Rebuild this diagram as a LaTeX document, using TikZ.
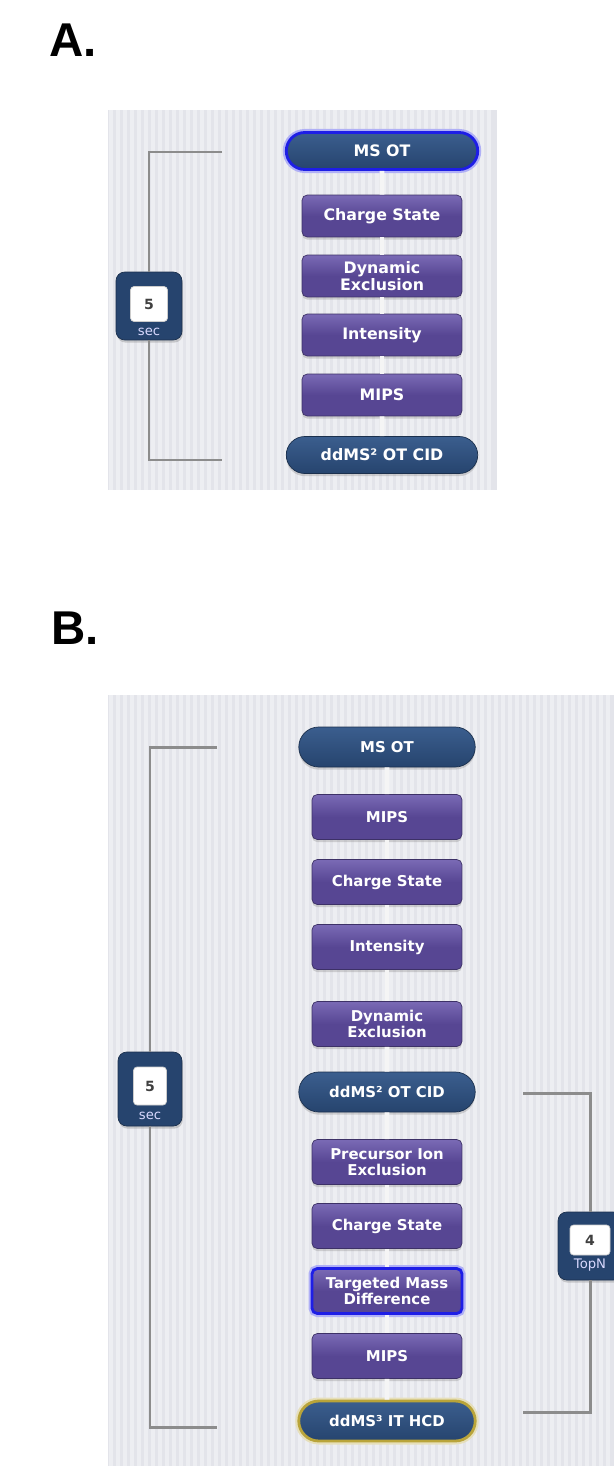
\documentclass[tikz,border=0pt]{standalone}
\usepackage{fontspec}
\setmainfont{DejaVu Sans}
\newfontfamily\panelfont{Liberation Sans}
\usetikzlibrary{positioning,shapes.misc,shadows}
\definecolor{scannavy}{HTML}{26446E}
\definecolor{scantop}{HTML}{3B5E8E}
\definecolor{filtviolet}{HTML}{574693}
\definecolor{filttop}{HTML}{7A6AB5}
\definecolor{panelbg}{HTML}{E3E4EA}
\definecolor{panelstripe}{HTML}{EDEEF2}
\definecolor{armgray}{HTML}{8C8C8C}
\definecolor{glowblue}{HTML}{1E1EE6}
\definecolor{glowgold}{HTML}{B9A43A}

\begin{document}
\begin{tikzpicture}[x=0.02cm,y=-0.02cm,
  scan/.style={rounded rectangle,draw=scannavy!70!black,line width=0.4pt,
    top color=scantop,bottom color=scannavy,text=white,
    font=\bfseries\fontsize{9}{9.8}\selectfont,
    minimum width=3.9cm,minimum height=0.74cm,inner sep=1pt,
    drop shadow={shadow xshift=0pt,shadow yshift=-1.5pt,opacity=0.3}},
  filt/.style={rectangle,rounded corners=3pt,draw=filtviolet!70!black,line width=0.4pt,
    top color=filttop,bottom color=filtviolet,middle color=filtviolet,text=white,
    align=center,font=\bfseries\fontsize{9}{9.8}\selectfont,
    minimum width=3.2cm,minimum height=0.84cm,inner sep=1pt,
    drop shadow={shadow xshift=0pt,shadow yshift=-1.5pt,opacity=0.3}},
  glow/.style={preaction={draw=#1!35,line width=4pt},draw=#1,line width=1.6pt},
  link/.style={draw=white!92!gray,line width=2.8pt},
  arm/.style={draw=armgray,line width=1.7pt},
  timer/.style={rectangle,rounded corners=5pt,fill=scannavy,draw=scannavy!70!black,
    minimum width=1.32cm,minimum height=1.36cm,
    drop shadow={shadow xshift=0.5pt,shadow yshift=-1.5pt,opacity=0.35}},
  timerval/.style={rectangle,rounded corners=2pt,fill=white,draw=gray!40,
    minimum width=0.74cm,minimum height=0.7cm,inner sep=0pt,
    font=\bfseries\fontsize{8}{8}\selectfont,text=black!75},
  timerunit/.style={font=\fontsize{7.5}{7.5}\selectfont,text=white!85!blue,inner sep=0pt},
  panellabel/.style={font=\panelfont\bfseries\fontsize{27}{27}\selectfont,inner sep=0pt}]

\useasboundingbox (0,0) rectangle (614,1470);

% panel A
\fill[panelbg] (108,110) rectangle (497,490);
\foreach \x in {111,118,...,494}
  \draw[panelstripe,line width=2pt] (\x,110) -- (\x,490);

\node[panellabel] (labA) at (73,40) {A.};

\node[scan,glow=glowblue] (msA) at (382,151) {MS OT};
\node[filt] (chargeA) at (382,216) {Charge State};
\node[filt] (dynA) at (382,276) {Dynamic\\Exclusion};
\node[filt] (intA) at (382,335) {Intensity};
\node[filt] (mipsA) at (382,395) {MIPS};
\node[scan] (ms2A) at (382,455) {ddMS² OT CID};

\foreach \a/\b in {msA/chargeA,chargeA/dynA,dynA/intA,intA/mipsA,mipsA/ms2A}
  \draw[link] (\a) -- (\b);

\node[timer] (secA) at (149,306) {};
\node[timerval] (secAval) at (149,304) {5};
\node[timerunit] (secAunit) at (149,332) {sec};

\coordinate (armAtop) at (222,152);
\coordinate (armAbot) at (222,460);
\draw[arm] (armAtop) -| (secA);
\draw[arm] (secA) |- (armAbot);

% panel B
\fill[panelbg] (108,695) rectangle (614,1466);
\foreach \x in {111,118,...,611}
  \draw[panelstripe,line width=2pt] (\x,695) -- (\x,1466);

\node[panellabel] (labB) at (75,628) {B.};

\begin{scope}[scan/.append style={minimum width=3.6cm,minimum height=0.8cm,
    font=\bfseries\fontsize{8.5}{9.4}\selectfont},
  filt/.append style={minimum width=3.0cm,minimum height=0.9cm,
    font=\bfseries\fontsize{8.5}{9.4}\selectfont}]
\node[scan] (msB) at (387,747) {MS OT};
\node[filt] (mipsB) at (387,817) {MIPS};
\node[filt] (chargeB) at (387,882) {Charge State};
\node[filt] (intB) at (387,947) {Intensity};
\node[filt] (dynB) at (387,1024) {Dynamic\\Exclusion};
\node[scan] (ms2B) at (387,1092) {ddMS² OT CID};
\node[filt] (precB) at (387,1162) {Precursor Ion\\Exclusion};
\node[filt] (charge2B) at (387,1226) {Charge State};
\node[filt,glow=glowblue] (tmdB) at (387,1291) {Targeted Mass\\Difference};
\node[filt] (mips2B) at (387,1356) {MIPS};
\node[scan,glow=glowgold] (ms3B) at (387,1421) {ddMS³ IT HCD};
\end{scope}

\foreach \a/\b in {msB/mipsB,mipsB/chargeB,chargeB/intB,intB/dynB,dynB/ms2B,
    ms2B/precB,precB/charge2B,charge2B/tmdB,tmdB/mips2B,mips2B/ms3B}
  \draw[link] (\a) -- (\b);

\node[timer,minimum width=1.28cm,minimum height=1.48cm] (secB) at (150,1089) {};
\node[timerval,minimum width=0.66cm,minimum height=0.76cm] (secBval) at (150,1086) {5};
\node[timerunit] (secBunit) at (150,1116) {sec};

\coordinate (armBtop) at (217,747);
\coordinate (armBbot) at (217,1427);
\draw[arm] (armBtop) -| (secB);
\draw[arm] (secB) |- (armBbot);

\node[timer,minimum width=1.28cm,minimum height=1.36cm] (topnB) at (590,1246) {};
\node[timerval,minimum width=0.8cm,minimum height=0.6cm] (topnBval) at (590,1240) {4};
\node[timerunit] (topnBunit) at (590,1265) {TopN};

\coordinate (armCtop) at (523,1093);
\coordinate (armCbot) at (523,1412);
\draw[arm] (armCtop) -| (topnB);
\draw[arm] (topnB) |- (armCbot);
\end{tikzpicture}
\end{document}
